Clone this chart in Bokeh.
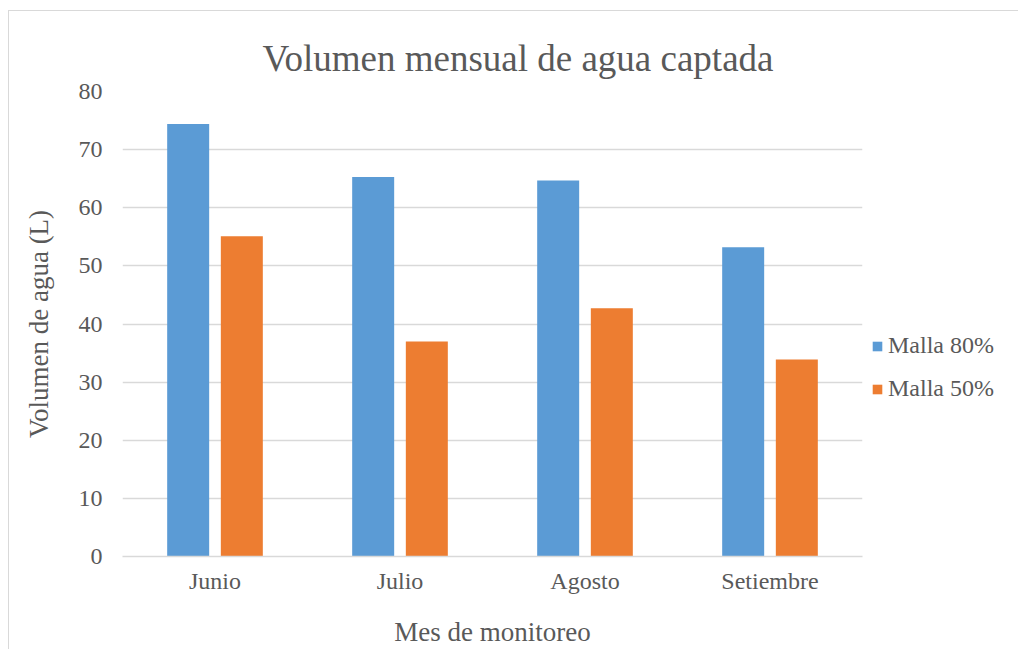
from bokeh.plotting import figure
from bokeh.models import FactorRange, Range1d, Legend, LegendItem, ColumnDataSource, Title
from bokeh.transform import dodge
from bokeh.embed import file_html
from bokeh.resources import INLINE

meses = ["Junio", "Julio", "Agosto", "Setiembre"]
malla_80 = [74.4, 65.3, 64.7, 53.2]
malla_50 = [55.1, 37.0, 42.7, 33.9]
y_ticks = [0, 10, 20, 30, 40, 50, 60, 70, 80]

FONT = "Liberation Serif"
TXT = "#595959"
GRID = "#D9D9D9"
BLUE = "#5B9BD5"
ORANGE = "#ED7D31"

src = ColumnDataSource(dict(mes=meses, m80=malla_80, m50=malla_50))

p = figure(x_range=FactorRange(*meses, range_padding=0), y_range=Range1d(0, 80),
           frame_width=740, frame_height=465, output_backend="svg", toolbar_location=None,
           min_border_left=113, min_border_right=140, min_border_top=80, min_border_bottom=93)
p.styles = {"margin-left": "8px", "margin-top": "10px",
            "border-left": "1px solid #D9D9D9", "border-top": "1px solid #D9D9D9"}
p.outline_line_color = None
p.background_fill_color = "white"
p.border_fill_color = "white"

p.title = Title(text="Volumen mensual de agua captada", align="left", offset=140,
                text_font=FONT, text_font_size="37px", text_color=TXT,
                text_font_style="normal", standoff=25)

r1 = p.vbar(x=dodge("mes", -0.145, range=p.x_range), top="m80", width=0.227, source=src,
            fill_color=BLUE, line_color=None)
r2 = p.vbar(x=dodge("mes", 0.145, range=p.x_range), top="m50", width=0.227, source=src,
            fill_color=ORANGE, line_color=None)

p.xgrid.grid_line_color = None
p.ygrid.grid_line_color = GRID
p.ygrid.grid_line_width = 1.5
p.yaxis.ticker = y_ticks

for ax in (p.xaxis[0], p.yaxis[0]):
    ax.major_tick_line_color = None
    ax.minor_tick_line_color = None
    ax.major_label_text_font = FONT
    ax.major_label_text_color = TXT
    ax.major_label_text_font_size = "24px"
    ax.axis_label_text_font = FONT
    ax.axis_label_text_color = TXT
    ax.axis_label_text_font_size = "27px"
    ax.axis_label_text_font_style = "normal"

p.yaxis.axis_line_color = None
p.xaxis.axis_line_color = GRID
p.xaxis.axis_line_width = 1.5
p.yaxis.major_label_standoff = 14
p.xaxis.major_label_standoff = 5
p.yaxis.axis_label = "Volumen de agua (L)"
p.xaxis.axis_label = "Mes de monitoreo"
p.yaxis.axis_label_standoff = 22
p.xaxis.axis_label_standoff = 20

legend = Legend(items=[LegendItem(label="Malla 80%", renderers=[r1]),
                       LegendItem(label="Malla 50%", renderers=[r2])],
                location=(9, 154), orientation="vertical",
                label_text_font=FONT, label_text_font_size="24px", label_text_color=TXT,
                glyph_width=12, glyph_height=12, label_standoff=5, spacing=16,
                padding=0, margin=0, border_line_color=None, background_fill_alpha=0)
p.add_layout(legend, "right")

open("out.html", "w").write(file_html(p, INLINE))
